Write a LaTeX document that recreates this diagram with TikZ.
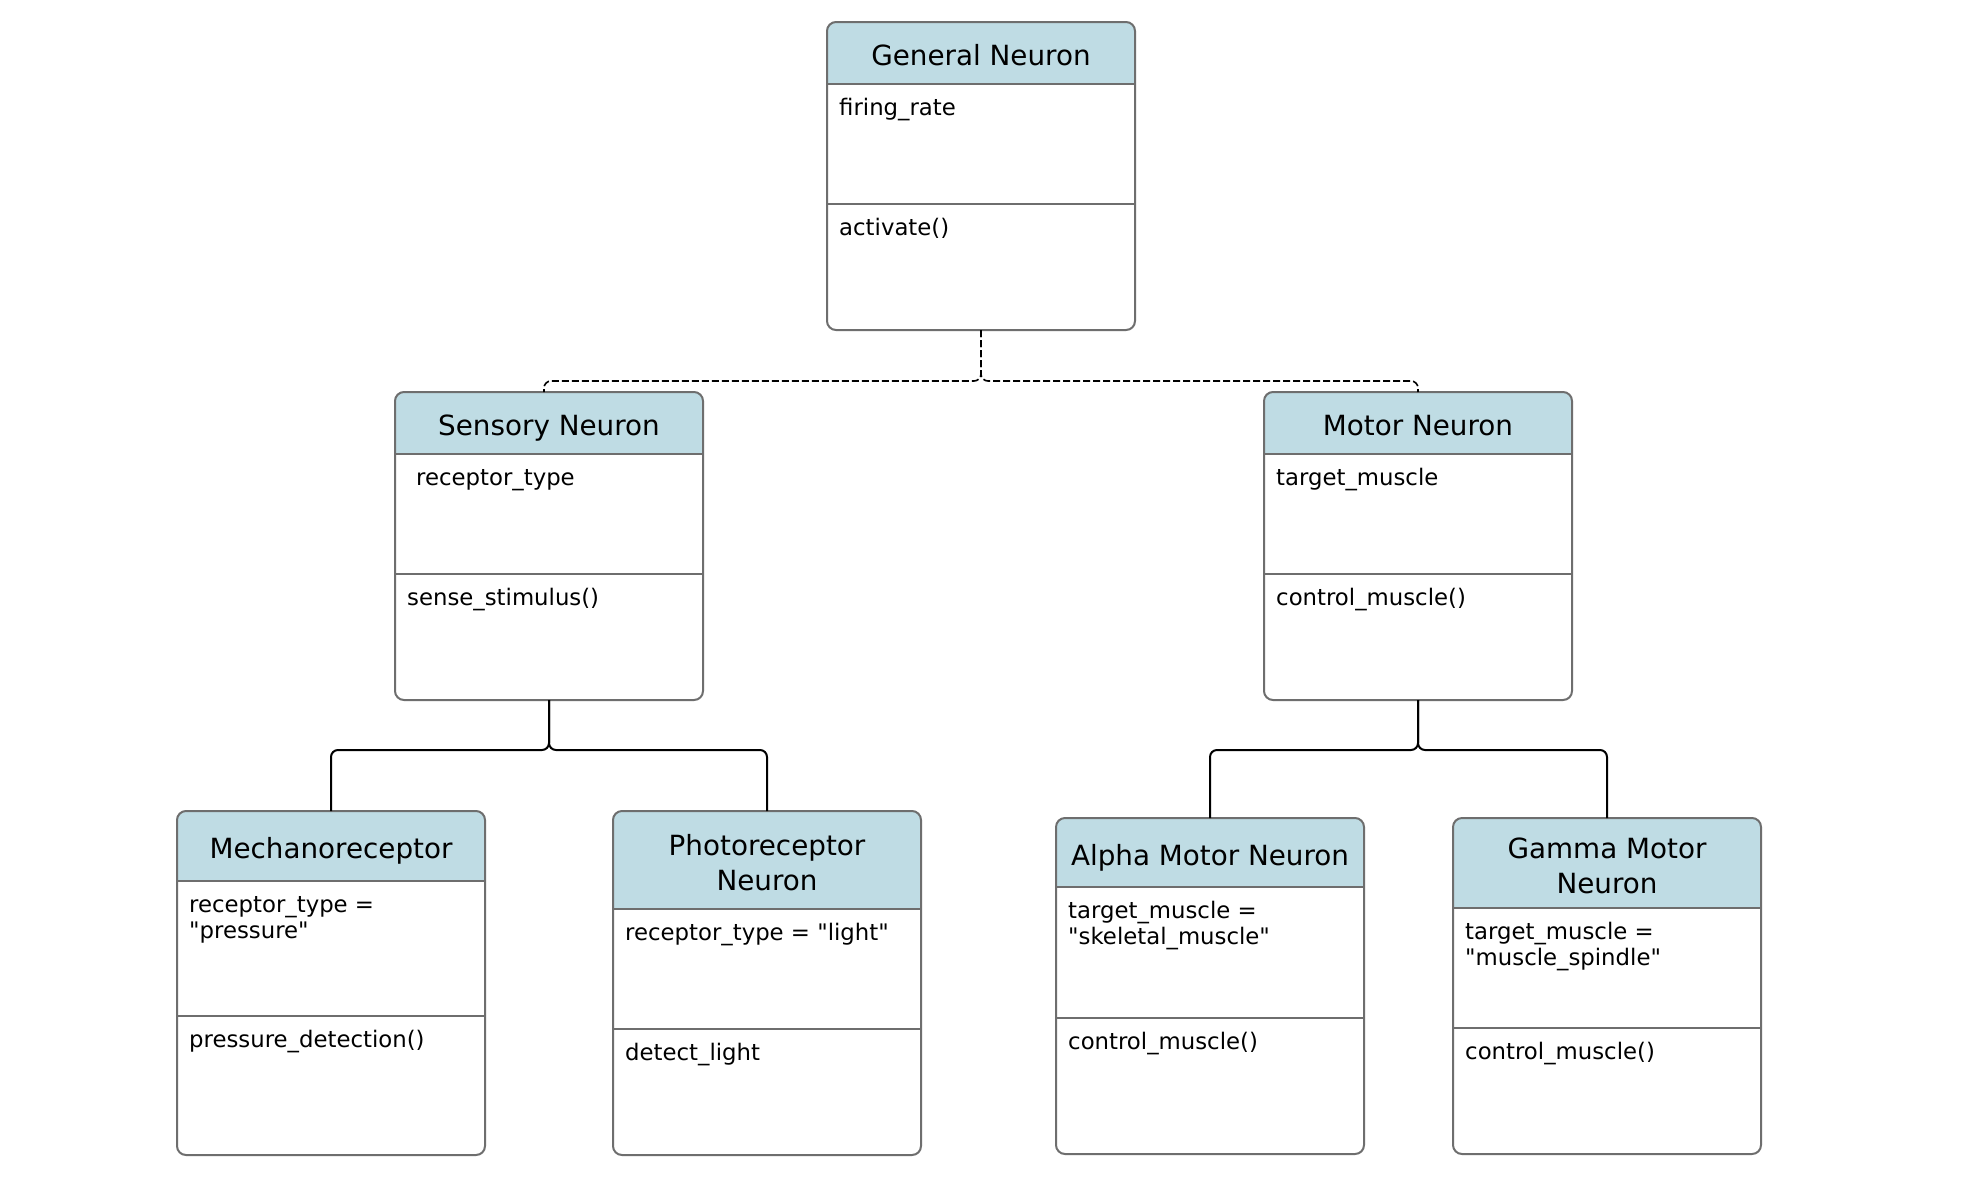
\documentclass[tikz,border=0pt]{standalone}
\usepackage{fontspec}
\setmainfont{DejaVu Sans}[Ligatures=TeXOff]
\definecolor{hdrblue}{RGB}{191,220,228}
\definecolor{bordergray}{RGB}{110,110,110}
\tikzset{
  classbox/.style={draw=bordergray, line width=2pt, rounded corners=9pt, inner sep=0pt, outer sep=0pt, minimum width=308pt},
  sepline/.style={draw=bordergray, line width=2pt},
  titletext/.style={font=\fontsize{27.8}{33}\selectfont, inner sep=0pt, anchor=base},
  bodytext/.style={font=\fontsize{22.8}{26}\selectfont, inner sep=0pt, anchor=base west},
  solidlink/.style={draw=black, line width=2pt, rounded corners=7pt},
  dashlink/.style={draw=black, line width=1.6pt, rounded corners=7pt, dash pattern=on 7pt off 3pt},
}
% #1 name, #2 left, #3 top, #4 bottom, #5 header bottom, #6 divider, #7 title lines, #8 attributes, #9 methods
\newcommand\umlclass[9]{%
  \pgfmathsetmacro\boxh{#4-#3}%
  \begin{scope}
    \clip[rounded corners=9pt] (#2,#3) rectangle ({#2+308},#4);
    \fill[hdrblue] (#2,#3) rectangle ({#2+308},#5);
  \end{scope}
  \node[classbox, minimum height=\boxh pt, anchor=north west] (#1) at (#2,#3) {};
  \draw[sepline] (#2,#5) -- ({#2+308},#5);
  \draw[sepline] (#2,#6) -- ({#2+308},#6);
  \foreach \myline [count=\myi] in {#7} {\xdef\ntitle{\myi}}
  \foreach \myline [count=\myi] in {#7} {\node[titletext] (#1-t\myi) at ({#2+154},{(#3+#5)/2+12.5-(\ntitle-1)*17.5+(\myi-1)*35}) {\myline};}
  \foreach \myline [count=\myi] in {#8} {\node[bodytext] (#1-a\myi) at ({#2+12},{#5+31+(\myi-1)*26}) {\myline};}
  \foreach \myline [count=\myi] in {#9} {\node[bodytext] (#1-m\myi) at ({#2+12},{#6+31+(\myi-1)*26}) {\myline};}
}
\begin{document}
\begin{tikzpicture}[x=1pt,y=-1pt]
\fill[white] (0,0) rectangle (1972,1200);
\useasboundingbox (0,0) rectangle (1972,1200);

\umlclass{gen}{827}{22}{330}{84}{204}{General Neuron}{firing\_rate}{activate()}
\umlclass{sens}{395}{392}{700}{454}{574}{Sensory Neuron}{{\hspace*{9pt}receptor\_type}}{sense\_stimulus()}
\umlclass{mot}{1264}{392}{700}{454}{574}{Motor Neuron}{target\_muscle}{control\_muscle()}
\umlclass{mech}{177}{811}{1155}{881}{1016}{Mechanoreceptor}{receptor\_type =,"pressure"}{pressure\_detection()}
\umlclass{photo}{613}{811}{1155}{909}{1029}{Photoreceptor,Neuron}{receptor\_type = "light"}{detect\_light}
\umlclass{alpha}{1056}{818}{1154}{887}{1018}{Alpha Motor Neuron}{target\_muscle =,"skeletal\_muscle"}{control\_muscle()}
\umlclass{gamma}{1453}{818}{1154}{908}{1028}{Gamma Motor,Neuron}{target\_muscle =,"muscle\_spindle"}{control\_muscle()}

% dashed links from General Neuron
\draw[dashlink] (gen.south) |- ([xshift=-5pt,yshift=11pt]sens.north) -- ([xshift=-5pt]sens.north);
\draw[dashlink] (gen.south) |- ([yshift=11pt]mot.north) -- (mot.north);

% solid links
\draw[solidlink] (sens.south) |- ([yshift=61pt]mech.north) -- (mech.north);
\draw[solidlink] (sens.south) |- ([yshift=61pt]photo.north) -- (photo.north);
\draw[solidlink] (mot.south) |- ([yshift=68pt]alpha.north) -- (alpha.north);
\draw[solidlink] (mot.south) |- ([yshift=68pt]gamma.north) -- (gamma.north);
\end{tikzpicture}
\end{document}
